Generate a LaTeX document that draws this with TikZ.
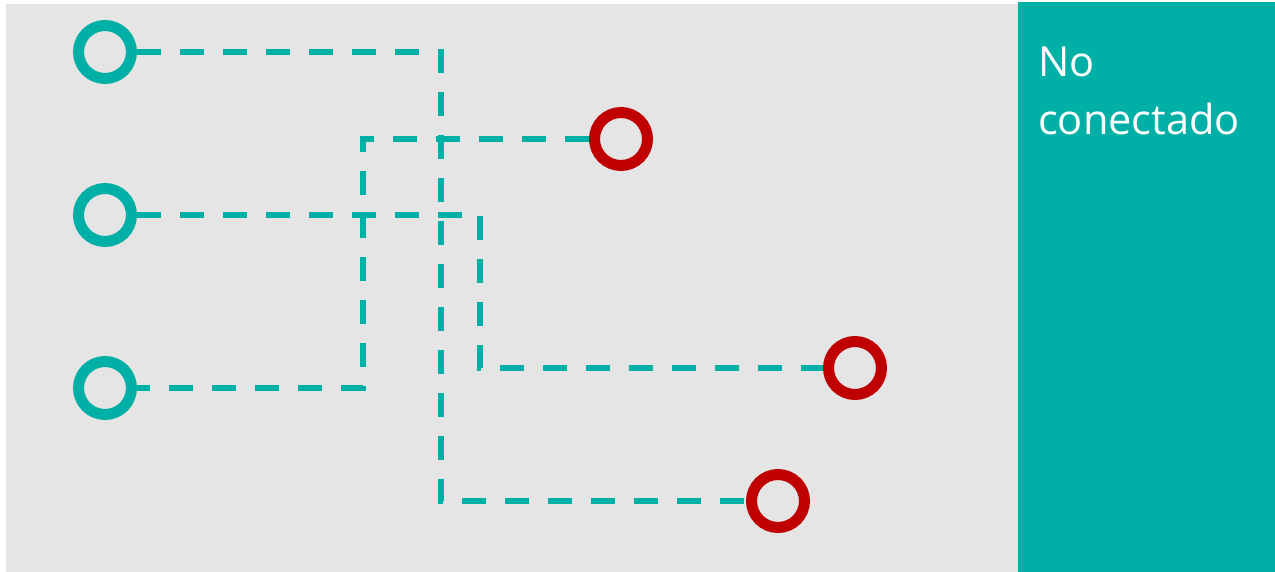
\documentclass[tikz,border=0pt]{standalone}
\usepackage{fontspec}
\setmainfont{Open Sans}
\definecolor{Teal}{HTML}{00B0A6}
\definecolor{Wine}{HTML}{C00000}
\definecolor{Board}{HTML}{E5E5E5}

\tikzset{
T/.style={draw=Teal, circle, inner sep=0pt, minimum size=53pt, line width=11pt},
R/.style={draw=Wine, circle, inner sep=0pt, minimum size=53pt, line width=11pt},
DashedLink/.style={draw=Teal, line width=6pt, dash pattern=on 24pt off 19pt},
PanelTitle/.style={text=white, align=left, inner sep=0pt, anchor=north west,
        font=\fontsize{41.5}{58}\selectfont},
}

\begin{document}
\begin{tikzpicture}[x=1pt,y=-1pt]
	\useasboundingbox (0,0) rectangle (1275,572);
	\fill[Board] (6,4) rectangle (1018,572);
	\fill[Teal] (1018,2) rectangle (1275,572);

	\foreach \y [count=\n] in {52,215,388}
		\node[T] (T\n) at (105,\y) {};
	\node[R] (R1) at (621,139) {};
	\node[R] (R2) at (855,368) {};
	\node[R] (R3) at (778,501) {};

	% corners of the wires
	\coordinate (k1) at (441,501);
	\coordinate (k2) at (363,388);
	\coordinate (k3) at (480,368);

	\draw[DashedLink] (T1) -| (k1) -- (R3);
	\draw[DashedLink] (R1) -| (k2) -- (T3);
	\draw[DashedLink] (T2) -| (k3) -- (R2);

	\node[PanelTitle] (title) at (1038,47) {No\\conectado};
\end{tikzpicture}
\end{document}
